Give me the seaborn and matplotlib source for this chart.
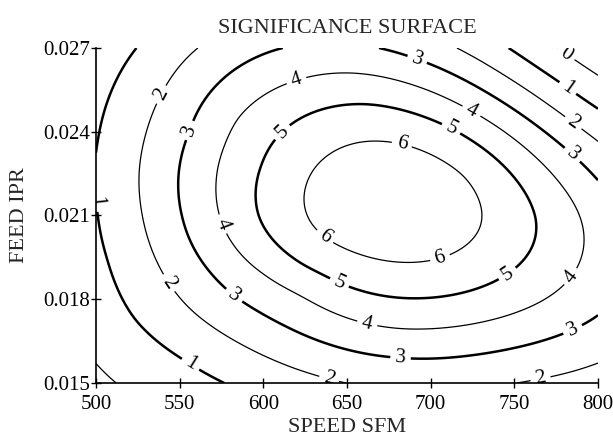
import numpy as np
import pandas as pd
import matplotlib
matplotlib.use("Agg")
import matplotlib.pyplot as plt
import seaborn as sns

# Points: (speed, feed) for each level
level_0 = [(774, 0.0270), (785, 0.02657), (800, 0.02596), (501, 0.01565), (510, 0.0150)]
level_1 = [(525, 0.0270), (502, 0.0237), (502, 0.0212), (508, 0.01941), (522, 0.01726),
           (552, 0.01593), (578, 0.0150), (746, 0.0270), (778, 0.02578), (787, 0.02532),
           (800, 0.02478)]
level_2 = [(560, 0.0270), (540, 0.02532), (528, 0.02095), (544, 0.01862), (628, 0.01536),
           (652, 0.0150), (752, 0.01511), (800, 0.01575), (716, 0.0270), (785, 0.02431),
           (800, 0.02363)]
level_3 = [(607, 0.02696), (558, 0.02399), (552, 0.02095), (582, 0.01805), (628, 0.01661),
           (682, 0.01593), (722, 0.0160), (785, 0.0169), (800, 0.01736), (672, 0.02696),
           (692, 0.02657), (785, 0.02317), (800, 0.0222)]
level_4 = [(620, 0.02578), (582, 0.02453), (572, 0.02274), (574, 0.02095), (602, 0.01894),
           (628, 0.0184), (662, 0.01708), (682, 0.0169), (722, 0.01708), (784, 0.0188),
           (791, 0.02059), (789, 0.02109), (724, 0.02471), (652, 0.02614), (626, 0.02596)]
level_5 = [(611, 0.02396), (628, 0.02467), (600, 0.02274), (596, 0.02095), (622, 0.01916),
           (644, 0.01844), (692, 0.01805), (746, 0.01894), (764, 0.02095), (662, 0.02503),
           (713, 0.02417), (761, 0.02109)]
level_6 = [(683, 0.0236), (662, 0.0237), (628, 0.02252), (624, 0.02156), (626, 0.02073),
           (635, 0.02012), (692, 0.0193), (706, 0.01941), (730, 0.02048), (731, 0.02109),
           (722, 0.02252)]

levels = [0, 1, 2, 3, 4, 5, 6]
speed_ticks = [500, 550, 600, 650, 700, 750, 800]
feed_ticks = [0.015, 0.018, 0.021, 0.024, 0.027]

rows = []
for lev, pts in zip(levels, [level_0, level_1, level_2, level_3, level_4, level_5, level_6]):
    for s, f in pts:
        rows.append({"speed": s, "feed": f, "sig": lev})
df = pd.DataFrame(rows)


def to_uv(s, f):
    return (np.asarray(s, float) - 650) / 150, (np.asarray(f, float) - 0.021) / 0.006


def tps_kernel(r):
    with np.errstate(divide="ignore", invalid="ignore"):
        k = r ** 2 * np.log(r)
    return np.nan_to_num(k)


pu, pv = to_uv(df["speed"], df["feed"])
n = len(pu)
r = np.hypot(pu[:, None] - pu[None, :], pv[:, None] - pv[None, :])
P = np.column_stack([np.ones(n), pu, pv])
A = np.zeros((n + 3, n + 3))
A[:n, :n] = tps_kernel(r) + 0.1 * np.eye(n)
A[:n, n:] = P
A[n:, :n] = P.T
b = np.concatenate([df["sig"].to_numpy(float), np.zeros(3)])
sol = np.linalg.solve(A, b)
w, a = sol[:n], sol[n:]

S, F = np.meshgrid(np.linspace(500, 800, 301), np.linspace(0.015, 0.027, 301))
gu, gv = to_uv(S, F)
rg = np.hypot(gu[..., None] - pu, gv[..., None] - pv)
Z = tps_kernel(rg) @ w + a[0] + a[1] * gu + a[2] * gv

sns.set_theme(style="white")
plt.rcParams["font.family"] = ["Liberation Serif", "DejaVu Serif"]

fig = plt.figure(figsize=(6.13, 4.36), dpi=100)
ax = fig.add_axes([0.1566, 0.1216, 0.8189, 0.7683])

widths = [0.9 if lev % 2 == 0 else 1.8 for lev in levels]
cs = ax.contour(S, F, Z, levels=levels, colors="black", linewidths=widths)

label_pos = [(780, 0.0267),
             (506, 0.02155), (557, 0.01572), (782, 0.02557),
             (540, 0.0253), (544, 0.0186), (640, 0.0153), (765, 0.01536), (785, 0.0243),
             (558, 0.0240), (582, 0.0181), (682, 0.0159), (785, 0.0169), (692, 0.0266), (785, 0.0232),
             (620, 0.0258), (576, 0.0207), (662, 0.0171), (784, 0.0188), (724, 0.0247),
             (611, 0.0240), (644, 0.0184), (746, 0.0189), (713, 0.0242),
             (683, 0.0236), (635, 0.0201), (706, 0.0194)]
ax.clabel(cs, fmt="%d", fontsize=15, inline=True, manual=label_pos)

ax.set_xlim(500, 800)
ax.set_ylim(0.015, 0.027)
ax.set_xticks(speed_ticks)
ax.set_yticks(feed_ticks)
ax.set_yticklabels([f"{t:.3f}" for t in feed_ticks])
ax.tick_params(direction="inout", length=7, width=1, colors="black", labelsize=15,
               bottom=True, left=True)
ax.tick_params(axis="x", pad=5)
ax.tick_params(axis="y", pad=1)
for side in ["left", "bottom"]:
    ax.spines[side].set_color("black")
    ax.spines[side].set_linewidth(1.2)
sns.despine(ax=ax)

ax.set_title("SIGNIFICANCE SURFACE", fontsize=16, pad=11)
ax.set_xlabel("SPEED SFM", fontsize=16, labelpad=3)
ax.set_ylabel("FEED IPR", fontsize=16, labelpad=10)

fig.savefig("out.png", dpi=100)
